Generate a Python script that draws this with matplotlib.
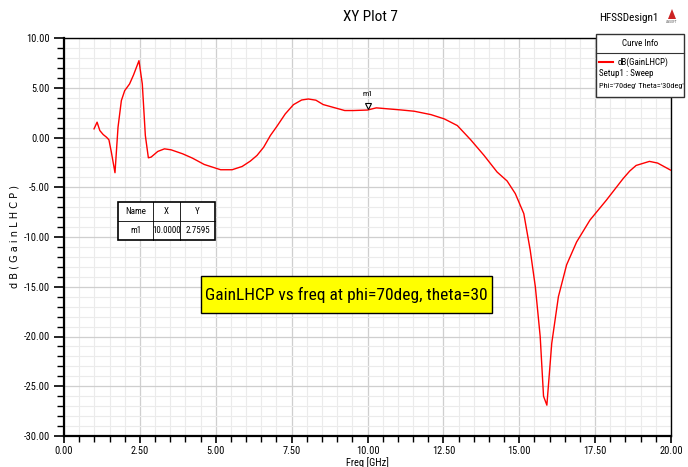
import matplotlib
matplotlib.use("Agg")
import matplotlib.pyplot as plt
from matplotlib import font_manager as fm
from matplotlib.ticker import MultipleLocator, FormatStrFormatter
from matplotlib.lines import Line2D
from matplotlib.patches import Rectangle, Polygon

freq = [0.99, 1.09, 1.18, 1.29, 1.40, 1.48, 1.56, 1.68, 1.78, 1.89, 2.00, 2.16, 2.29, 2.47,
        2.58, 2.68, 2.78, 2.87, 3.09, 3.31, 3.53, 3.91, 4.23, 4.62, 5.16, 5.54, 5.87, 6.14,
        6.36, 6.58, 6.80, 7.01, 7.29, 7.56, 7.83, 8.05, 8.30, 8.54, 8.93, 9.25, 9.53, 10.00,
        10.29, 10.67, 11.10, 11.54, 12.09, 12.53, 12.96, 13.40, 13.84, 14.27, 14.60, 14.87,
        15.15, 15.36, 15.53, 15.69, 15.80, 15.91, 16.07, 16.29, 16.56, 16.89, 17.33, 17.87,
        18.42, 18.64, 18.85, 19.29, 19.56, 20.00]
gain = [0.87, 1.54, 0.70, 0.30, 0.03, -0.23, -1.47, -3.54, 1.03, 3.71, 4.71, 5.38, 6.28, 7.72,
        5.38, 0.20, -2.04, -1.97, -1.40, -1.14, -1.24, -1.64, -2.07, -2.71, -3.24, -3.24, -2.91,
        -2.37, -1.80, -0.97, 0.20, 1.10, 2.37, 3.30, 3.77, 3.87, 3.75, 3.31, 2.98, 2.71, 2.71,
        2.76, 2.98, 2.88, 2.77, 2.64, 2.30, 1.87, 1.20, -0.23, -1.80, -3.47, -4.37, -5.64,
        -7.65, -11.3, -15.0, -20.0, -26.0, -26.9, -20.7, -16.0, -12.8, -10.5, -8.3, -6.3,
        -4.14, -3.37, -2.81, -2.40, -2.57, -3.30]

marker_name = "m1"
marker_x = 10.0
marker_y = 2.7595

x_ticks = [0.0, 2.5, 5.0, 7.5, 10.0, 12.5, 15.0, 17.5, 20.0]
y_ticks = [10, 5, 0, -5, -10, -15, -20, -25, -30]

installed = {f.name for f in fm.fontManager.ttflist}
narrow_pref = ['Liberation Sans Narrow', 'Arial Narrow', 'Roboto Condensed', 'PT Sans Narrow',
               'Archivo Narrow', 'Pragati Narrow', 'Fira Sans Condensed', 'IBM Plex Sans Condensed',
               'Encode Sans Condensed', 'Barlow Semi Condensed', 'Open Sans Condensed']
narrow = [n for n in narrow_pref if n in installed][:1]
FAM = narrow + ['Liberation Sans', 'DejaVu Sans']
plt.rcParams['font.family'] = FAM

fig = plt.figure(figsize=(6.88, 4.67), dpi=100)
W, H = 688, 467
L, R, T, B = 64, 671, 38, 436
ax = fig.add_axes([L / W, (H - B) / H, (R - L) / W, (B - T) / H])

ax.plot(freq, gain, color='#ff0000', lw=1.0, zorder=3)
ax.set_xlim(0, 20)
ax.set_ylim(-30, 10)
ax.set_xticks(x_ticks)
ax.set_yticks(y_ticks)
ax.xaxis.set_major_formatter(FormatStrFormatter('%.2f'))
ax.yaxis.set_major_formatter(FormatStrFormatter('%.2f'))
ax.xaxis.set_minor_locator(MultipleLocator(0.5))
ax.yaxis.set_minor_locator(MultipleLocator(1.0))
ax.grid(which='major', color='#cfcfcf', lw=0.9)
ax.grid(which='minor', color='#ebebeb', lw=0.8)
ax.set_axisbelow(True)
for s in ax.spines.values():
    s.set_color('black')
    s.set_linewidth(1.0)
ax.spines['left'].set_linewidth(1.6)
ax.spines['bottom'].set_linewidth(1.6)
ax.tick_params(axis='y', which='major', direction='out', length=7, width=1.2, labelsize=7.5, pad=3)
ax.tick_params(axis='y', which='minor', direction='out', length=5, width=1.0)
ax.tick_params(axis='x', which='major', direction='out', length=5, width=1.2, labelsize=7.5, pad=2)
ax.tick_params(axis='x', which='minor', direction='out', length=4, width=1.0)
ax.tick_params(top=False, right=False)

ax.set_xlabel('Freq [GHz]', fontsize=7.5, labelpad=1)
ax.set_ylabel('d B ( G a i n L H C P )', fontsize=7, family=['DejaVu Sans'], labelpad=3)

# marker
ax.plot([marker_x], [marker_y + 0.45], marker='v', ms=5, mfc='white', mec='black',
        mew=0.8, zorder=4)
ax.text(marker_x, marker_y + 1.35, marker_name, fontsize=6, ha='center', va='bottom')

# marker table
tx0, ty0 = 118, 202
cw = [35, 27, 35]
rh = 19
rows = [["Name", "X", "Y"], [marker_name, "%.4f" % marker_x, "%.4f" % marker_y]]
fig.patches.append(Rectangle((tx0 / W, 1 - (ty0 + 2 * rh) / H), sum(cw) / W, 2 * rh / H,
                             transform=fig.transFigure, facecolor='white', edgecolor='black',
                             lw=1.2, zorder=5))
for r, row in enumerate(rows):
    cx = tx0
    for c, txt in enumerate(row):
        fig.text((cx + cw[c] / 2) / W, 1 - (ty0 + rh * r + rh / 2) / H, txt, fontsize=6.5,
                 ha='center', va='center', zorder=6)
        cx += cw[c]
fig.add_artist(Line2D([tx0 / W, (tx0 + sum(cw)) / W], [1 - (ty0 + rh) / H] * 2,
                      color='black', lw=0.6, zorder=6))
cx = tx0
for c in cw[:-1]:
    cx += c
    fig.add_artist(Line2D([cx / W] * 2, [1 - ty0 / H, 1 - (ty0 + 2 * rh) / H],
                          color='black', lw=0.6, zorder=6))

# yellow annotation box with text fitted to its width
renderer = fig.canvas.get_renderer()
yx0, yy0, yx1, yy1 = 201, 276, 492, 313
fig.patches.append(Rectangle((yx0 / W, 1 - yy1 / H), (yx1 - yx0) / W, (yy1 - yy0) / H,
                             transform=fig.transFigure, facecolor='#ffff00', edgecolor='black',
                             lw=1.0, zorder=5))
ann = fig.text((yx0 + yx1) / 2 / W, 1 - (yy0 + yy1) / 2 / H,
               'GainLHCP vs freq at phi=70deg, theta=30', fontsize=16,
               ha='center', va='center', zorder=6)
w = ann.get_window_extent(renderer).width
ann.set_fontsize(16 * min(1.0, 282.0 / w))

# title and design name
fig.text(370 / W, 1 - 17 / H, 'XY Plot 7', fontsize=11, ha='center', va='center')
fig.text(629 / W, 1 - 18 / H, 'HFSSDesign1', fontsize=8, ha='center', va='center')
fig.patches.append(Polygon([[668 / W, 1 - 19 / H], [676 / W, 1 - 19 / H], [672 / W, 1 - 9 / H]],
                           closed=True, transform=fig.transFigure, facecolor='#cc2222',
                           edgecolor='none'))
fig.text(672 / W, 1 - 22 / H, 'ANSOFT', fontsize=2.5, ha='center', va='center', color='#555555')

# curve info legend box
bx0, by0, bx1, by1 = 596, 34, 684, 97
fig.patches.append(Rectangle((bx0 / W, 1 - by1 / H), (bx1 - bx0) / W, (by1 - by0) / H,
                             transform=fig.transFigure, facecolor='white', edgecolor='#333333',
                             lw=1.0, zorder=5))
fig.add_artist(Line2D([bx0 / W, bx1 / W], [1 - 53 / H] * 2, color='#333333', lw=0.8, zorder=6))
fig.text((bx0 + bx1) / 2 / W, 1 - 44 / H, 'Curve Info', fontsize=6.5, ha='center', va='center', zorder=6)
fig.add_artist(Line2D([599 / W, 613 / W], [1 - 62 / H] * 2, color='#ff0000', lw=1.5, zorder=6))
fig.text(618 / W, 1 - 62 / H, 'dB(GainLHCP)', fontsize=6.5, ha='left', va='center', zorder=6)
fig.text(599 / W, 1 - 74 / H, 'Setup1 : Sweep', fontsize=6.5, ha='left', va='center', zorder=6)
phi = fig.text(599 / W, 1 - 86 / H, "Phi='70deg' Theta='30deg'", fontsize=6.5, ha='left',
               va='center', zorder=6)
pw = phi.get_window_extent(renderer).width
phi.set_fontsize(6.5 * min(1.0, 84.0 / pw))

fig.savefig('out.png', dpi=100)
